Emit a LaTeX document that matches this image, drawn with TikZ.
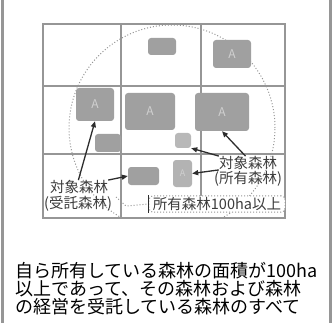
\documentclass[tikz,border=0pt]{standalone}
\usepackage{fontspec}
\newfontfamily\jp{Noto Sans CJK JP}
\usetikzlibrary{arrows.meta}
\definecolor{patch}{RGB}{160,160,160}
\definecolor{patchA}{RGB}{208,208,208}
\definecolor{gridc}{RGB}{150,150,150}
\definecolor{ink}{RGB}{60,60,60}
\definecolor{arrc}{RGB}{45,45,45}
\tikzset{
  patchbox/.style={rectangle, rounded corners=3pt, fill=patch, draw=none, inner sep=0pt,
    text=patchA, font=\jp\fontsize{12}{12}\selectfont},
  gridline/.style={draw=gridc, line width=1.2pt},
  circ/.style={draw=gridc, line width=1pt, dotted},
  lab/.style={inner sep=0pt, text=ink, font=\jp\fontsize{14.5}{14.5}\selectfont},
  labbox/.style={draw=gridc, line width=1pt, dotted, fill=white, rounded corners=4pt,
    inner xsep=4pt, inner ysep=1.5pt, text=ink, font=\jp\fontsize{14.5}{14.5}\selectfont},
  arr/.style={draw=arrc, line width=1.3pt, -{Triangle[length=6pt,width=5pt]}},
  btxt/.style={inner sep=0pt, anchor=west, text=black, font=\jp\fontsize{18}{18}\selectfont},
}
\begin{document}
\begin{tikzpicture}[x=1pt,y=-1pt]
\useasboundingbox (0,0) rectangle (334,323);
% side borders
\fill[gridc] (1,0) rectangle (4,323);
\fill[gridc] (329,0) rectangle (332,323);
% grid
\draw[gridline] (43,24) rectangle (285,218);
\draw[gridline] (43,86) -- (285,86);
\draw[gridline] (43,154) -- (285,154);
\draw[gridline] (121,24) -- (121,218);
\draw[gridline] (201,24) -- (201,196);
% circle
\begin{scope}
\clip (43,24) rectangle (285,218);
\draw[circ] (172,128) circle (103pt);
\end{scope}
% patches
\node[patchbox, minimum width=28pt, minimum height=17pt] (b1) at (162,46.5) {};
\node[patchbox, minimum width=38pt, minimum height=28pt] (b2) at (232,54) {A};
\node[patchbox, minimum width=38pt, minimum height=33pt] (b3) at (95,104.5) {A};
\node[patchbox, minimum width=50pt, minimum height=37pt] (b4) at (150,111.5) {A};
\node[patchbox, minimum width=54pt, minimum height=38pt] (b5) at (222,112) {A};
\node[patchbox, minimum width=26pt, minimum height=18pt] (b6) at (108,143) {};
\node[patchbox, fill=patch!75, minimum width=16pt, minimum height=15pt] (b7) at (183,140.5) {};
\node[patchbox, minimum width=31pt, minimum height=18pt] (b8) at (143.5,176) {};
\node[patchbox, fill=patch!80, minimum width=19pt, minimum height=27pt, font=\jp\fontsize{9}{9}\selectfont] (b9) at (182.5,173.5) {A};
% labels
\node[lab] (l1) at (79,187) {対象森林};
\node[lab] (l2) at (78,204) {(受託森林)};
\node[lab] (r1) at (248,163) {対象森林};
\node[lab] (r2) at (248,179) {(所有森林)};
\node[labbox] (own) at (217,204) {所有森林100ha以上};
\draw[draw=arrc, line width=1.2pt] (own.north west) -- (own.south west);
% leader from circle to label
\coordinate (cp) at (116,197);
\coordinate (ck) at (126,206);
\draw[circ] (cp) -- (ck) -- (own.west);
% arrows
\draw[arr] (l1.95) -- (b3.south);
\draw[arr] (l1.north east) -- (b8.west);
\draw[arr] (r1.110) -- (b5.south);
\draw[arr] (r1.north west) -- (b7.south east);
\draw[arr] (r1.south west) -- (b9.east);
% bottom text
\node[btxt] (t1) at (15,271) {自ら所有している森林の面積が100ha};
\node[btxt] (t2) at (15,289) {以上であって、その森林および森林};
\node[btxt] (t3) at (15,306.5) {の経営を受託している森林のすべて};
\end{tikzpicture}
\end{document}
